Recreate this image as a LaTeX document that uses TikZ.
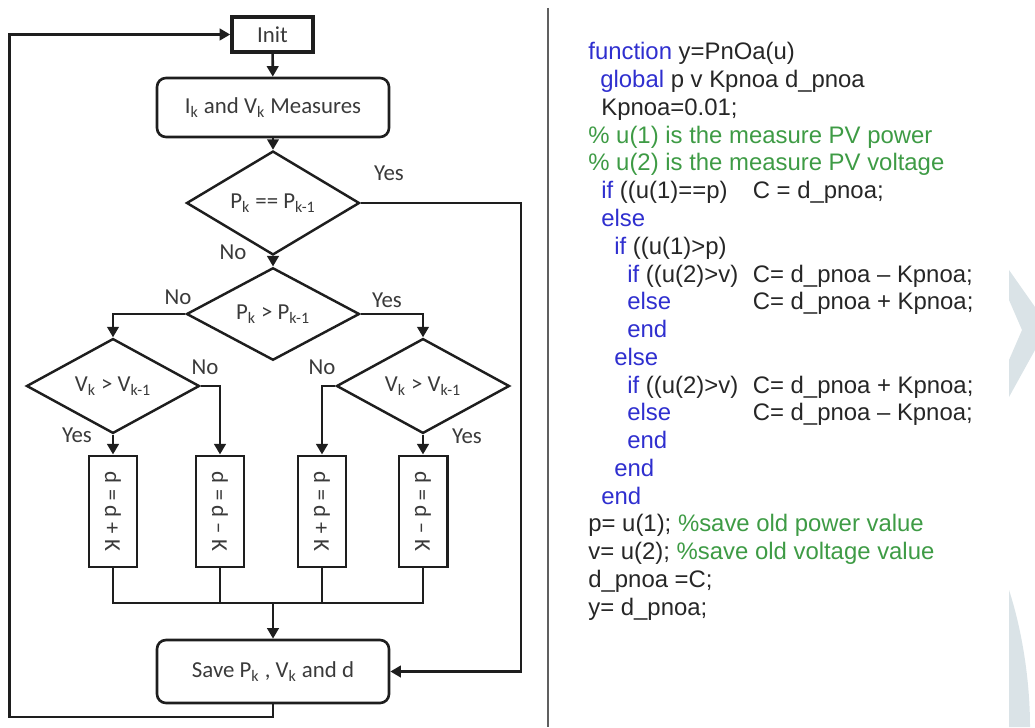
\documentclass[tikz,border=0pt]{standalone}
\usepackage{fontspec}
\setmainfont{Carlito}
\newfontfamily\codefont{Liberation Sans}
\usepackage{graphicx}
\usepackage{xcolor}
\usetikzlibrary{arrows.meta,shapes.geometric}
\definecolor{ink}{HTML}{1E1E1E}
\definecolor{txt}{HTML}{3A3A3A}
\definecolor{kwblue}{HTML}{2F2FCF}
\definecolor{cmgreen}{HTML}{3E9B45}
\definecolor{codeink}{HTML}{262626}
\definecolor{wmark}{HTML}{DAE3E7}
\newcommand{\kw}[1]{\textcolor{kwblue}{#1}}
\newcommand{\cmt}[1]{\textcolor{cmgreen}{#1}}

\begin{document}
\begin{tikzpicture}[
  font=\fontsize{13}{15}\selectfont,
  initbox/.style={draw=ink, line width=2pt, text=txt, minimum width=1.62cm, minimum height=0.70cm, inner sep=0pt},
  rbox/.style={draw=ink, line width=1.5pt, rounded corners=0.18cm, text=txt, minimum width=4.64cm, minimum height=1.18cm},
  cond/.style={diamond, draw=ink, line width=1.4pt, text=txt, minimum width=3.46cm, minimum height=1.62cm, inner sep=0pt},
  dbox/.style={draw=ink, line width=1.7pt, text=txt, minimum width=0.96cm, minimum height=2.22cm, inner sep=0pt},
  lbl/.style={text=txt},
  link/.style={draw=ink, line width=1.5pt},
  arr/.style={link, -{Triangle[length=6pt,width=6.5pt]}},
  code/.style={anchor=base west, inner sep=0pt, font=\codefont\fontsize{13.6}{16}\selectfont, text=codeink}
]
\useasboundingbox (0,0) rectangle (20.7,14.54);

% flowchart
\node[initbox] (init) at (5.45,13.85) {Init};
\node[rbox] (meas) at (5.46,12.39) {I\textsubscript{k} and V\textsubscript{k} Measures};
\node[cond] (eq) at (5.46,10.48) {P\textsubscript{k} == P\textsubscript{k-1}};
\node[cond] (gt) at (5.46,8.26) {P\textsubscript{k} > P\textsubscript{k-1}};
\node[cond] (vl) at (2.26,6.82) {V\textsubscript{k} > V\textsubscript{k-1}};
\node[cond] (vr) at (8.46,6.82) {V\textsubscript{k} > V\textsubscript{k-1}};
\node[dbox] (b1) at (2.26,4.31) {\rotatebox{-90}{d = d + K}};
\node[dbox] (b2) at (4.40,4.31) {\rotatebox{-90}{d = d \textendash{} K}};
\node[dbox] (b3) at (6.44,4.31) {\rotatebox{-90}{d = d + K}};
\node[dbox] (b4) at (8.46,4.31) {\rotatebox{-90}{d = d \textendash{} K}};
\node[rbox, minimum height=1.26cm] (save) at (5.46,1.11) {Save P\textsubscript{k} , V\textsubscript{k} and d};

\node[lbl] (yeq) at (7.78,11.08) {Yes};
\node[lbl] (neq) at (4.66,9.50) {No};
\node[lbl] (ngt) at (3.56,8.60) {No};
\node[lbl] (ygt) at (7.74,8.54) {Yes};
\node[lbl] (nvl) at (4.10,7.20) {No};
\node[lbl] (nvr) at (6.44,7.20) {No};
\node[lbl] (yvl) at (1.54,5.84) {Yes};
\node[lbl] (yvr) at (9.34,5.82) {Yes};

\coordinate (yesc) at (10.42,10.48);
\coordinate (mrg) at (5.46,2.48);
\coordinate (lpb) at (5.46,0.20);
\coordinate (lpl) at (0.19,0.20);

\draw[arr] (init) -- (meas);
\draw[arr] (meas) -- (eq);
\draw[arr] (eq) -- (gt);
\draw[arr] (gt.west) -| (vl);
\draw[arr] (gt.east) -| (vr);
\draw[arr] (vl) -- (b1);
\draw[arr] (vl.east) -| (b2);
\draw[arr] (vr.west) -| (b3);
\draw[arr] (vr) -- (b4);
\draw[arr] (eq.east) -- (yesc) |- (save);
\draw[link] (b1.south) |- (b4.south |- mrg) -- (b4.south);
\draw[link] (b2.south) -- (b2.south |- mrg);
\draw[link] (b3.south) -- (b3.south |- mrg);
\draw[arr] (mrg) -- (save);
\draw[arr] (save.south) -- (lpb) -- (lpl) |- (init.west);

% separator
\draw[line width=1.5pt, gray!75!black] (10.96,14.38) -- (10.96,0);

% code listing
\node[code] (l1) at (11.76,13.34) {\kw{function} y=PnOa(u)};
\node[code] (l2) at (12.00,12.785) {\kw{global} p v Kpnoa d\_pnoa};
\node[code] (l3) at (12.02,12.23) {Kpnoa=0.01;};
\node[code] (l4) at (11.76,11.675) {\cmt{\% u(1) is the measure PV power}};
\node[code] (l5) at (11.76,11.12) {\cmt{\% u(2) is the measure PV voltage}};
\node[code] (l6) at (12.02,10.565) {\kw{if} ((u(1)==p)};
\node[code] (c6) at (15.05,10.565) {C = d\_pnoa;};
\node[code] (l7) at (12.02,10.01) {\kw{else}};
\node[code] (l8) at (12.28,9.455) {\kw{if} ((u(1)>p)};
\node[code] (l9) at (12.54,8.90) {\kw{if} ((u(2)>v)};
\node[code] (c9) at (15.05,8.90) {C= d\_pnoa \textendash{} Kpnoa;};
\node[code] (l10) at (12.54,8.345) {\kw{else}};
\node[code] (c10) at (15.05,8.345) {C= d\_pnoa + Kpnoa;};
\node[code] (l11) at (12.54,7.79) {\kw{end}};
\node[code] (l12) at (12.28,7.235) {\kw{else}};
\node[code] (l13) at (12.54,6.68) {\kw{if} ((u(2)>v)};
\node[code] (c13) at (15.05,6.68) {C= d\_pnoa + Kpnoa;};
\node[code] (l14) at (12.54,6.125) {\kw{else}};
\node[code] (c14) at (15.05,6.125) {C= d\_pnoa \textendash{} Kpnoa;};
\node[code] (l15) at (12.54,5.57) {\kw{end}};
\node[code] (l16) at (12.28,5.015) {\kw{end}};
\node[code] (l17) at (12.02,4.46) {\kw{end}};
\node[code] (l18) at (11.76,3.905) {p= u(1); \cmt{\%save old power value}};
\node[code] (l19) at (11.76,3.35) {v= u(2); \cmt{\%save old voltage value}};
\node[code] (l20) at (11.76,2.795) {d\_pnoa =C;};
\node[code] (l21) at (11.76,2.24) {y= d\_pnoa;};

% faint marks at the right edge
\fill[wmark] (20.18,9.14) -- (20.7,8.40) -- (20.7,7.54) -- (20.18,6.60) -- (20.18,7.34) -- (20.44,7.94) -- (20.18,8.54) -- cycle;
\fill[wmark] (20.18,2.74) -- (20.18,0) -- (20.6,0) .. controls (20.6,0.94) and (20.44,1.94) .. (20.18,2.74);
\end{tikzpicture}
\end{document}
